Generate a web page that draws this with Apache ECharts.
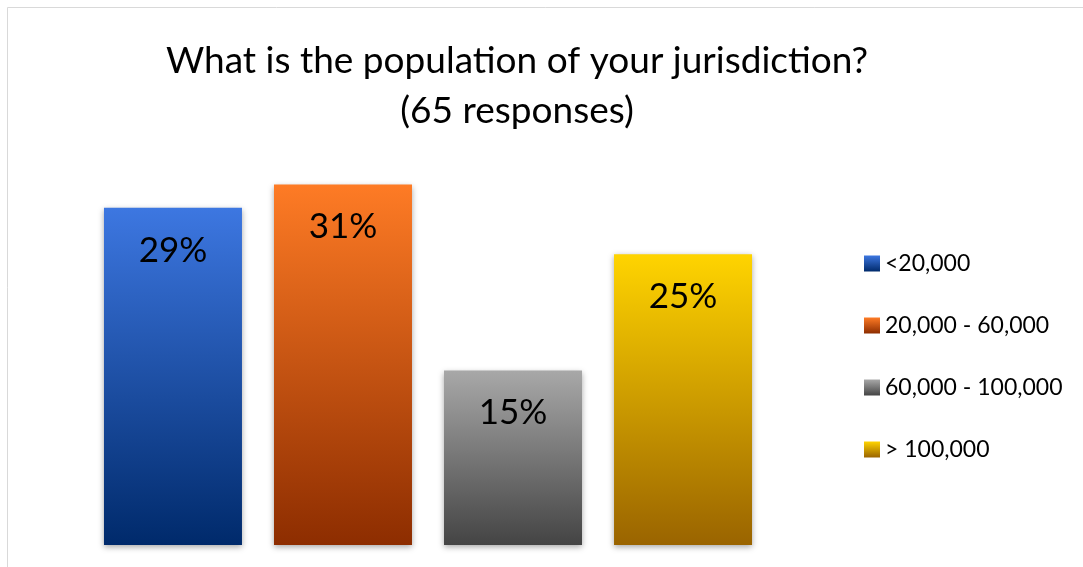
<!DOCTYPE html>
<html>
<head>
<meta charset="utf-8">
<script src="https://cdn.jsdelivr.net/npm/echarts@6/dist/echarts.min.js"></script>
<style>
html,body{margin:0;padding:0;background:#fff;}
#chart{width:1083px;height:567px;}
</style>
</head>
<body>
<div id="chart"></div>
<script>
const categories = ['Population'];
const seriesNames = ['<20,000', '20,000 - 60,000', '60,000 - 100,000', '> 100,000'];
const seriesValues = [29, 31, 15, 25];
const gradTop = ['#3d77e1', '#fe7b25', '#a8a8a8', '#ffd400'];
const gradBottom = ['#002a6b', '#8d2d00', '#444444', '#9a6400'];

const chart = echarts.init(document.getElementById('chart'));
const series = seriesNames.map((name, i) => ({
  name: name,
  type: 'bar',
  data: [seriesValues[i]],
  barWidth: 138,
  barGap: '23.2%',
  itemStyle: {
    color: new echarts.graphic.LinearGradient(0, 0, 0, 1, [
      { offset: 0, color: gradTop[i] },
      { offset: 1, color: gradBottom[i] }
    ]),
    shadowBlur: 6,
    shadowColor: 'rgba(0,0,0,0.35)',
    shadowOffsetY: 2
  },
  label: {
    show: true,
    position: 'insideTop',
    distance: 25,
    formatter: '{c}%',
    color: '#000',
    fontSize: 35,
    fontFamily: 'Lato'
  }
}));

chart.setOption({
  backgroundColor: '#fff',
  animation: false,
  graphic: [{
    type: 'rect',
    shape: { x: 7.5, y: 7.5, width: 1200, height: 700 },
    style: { fill: 'none', stroke: '#d9d9d9', lineWidth: 1 },
    silent: true
  }],
  title: {
    text: 'What is the population of your jurisdiction?\n(65 responses)',
    left: 512,
    top: 31,
    textAlign: 'center',
    textStyle: {
      fontFamily: 'Lato',
      fontSize: 37,
      fontWeight: 'normal',
      color: '#000',
      lineHeight: 50
    }
  },
  legend: {
    orient: 'vertical',
    left: 859,
    top: 247,
    itemWidth: 16,
    itemHeight: 16,
    itemGap: 39,
    icon: 'rect',
    textStyle: { fontFamily: 'Lato', fontSize: 23, color: '#000' },
    data: seriesNames
  },
  grid: { left: 60, right: 287, top: 138, bottom: 22 },
  xAxis: {
    type: 'category',
    data: categories,
    axisLine: { show: false },
    axisTick: { show: false },
    axisLabel: { show: false }
  },
  yAxis: {
    type: 'value',
    min: 0,
    max: 35,
    interval: 5,
    show: false,
    splitLine: { show: false }
  },
  series: series
});
</script>
</body>
</html>
